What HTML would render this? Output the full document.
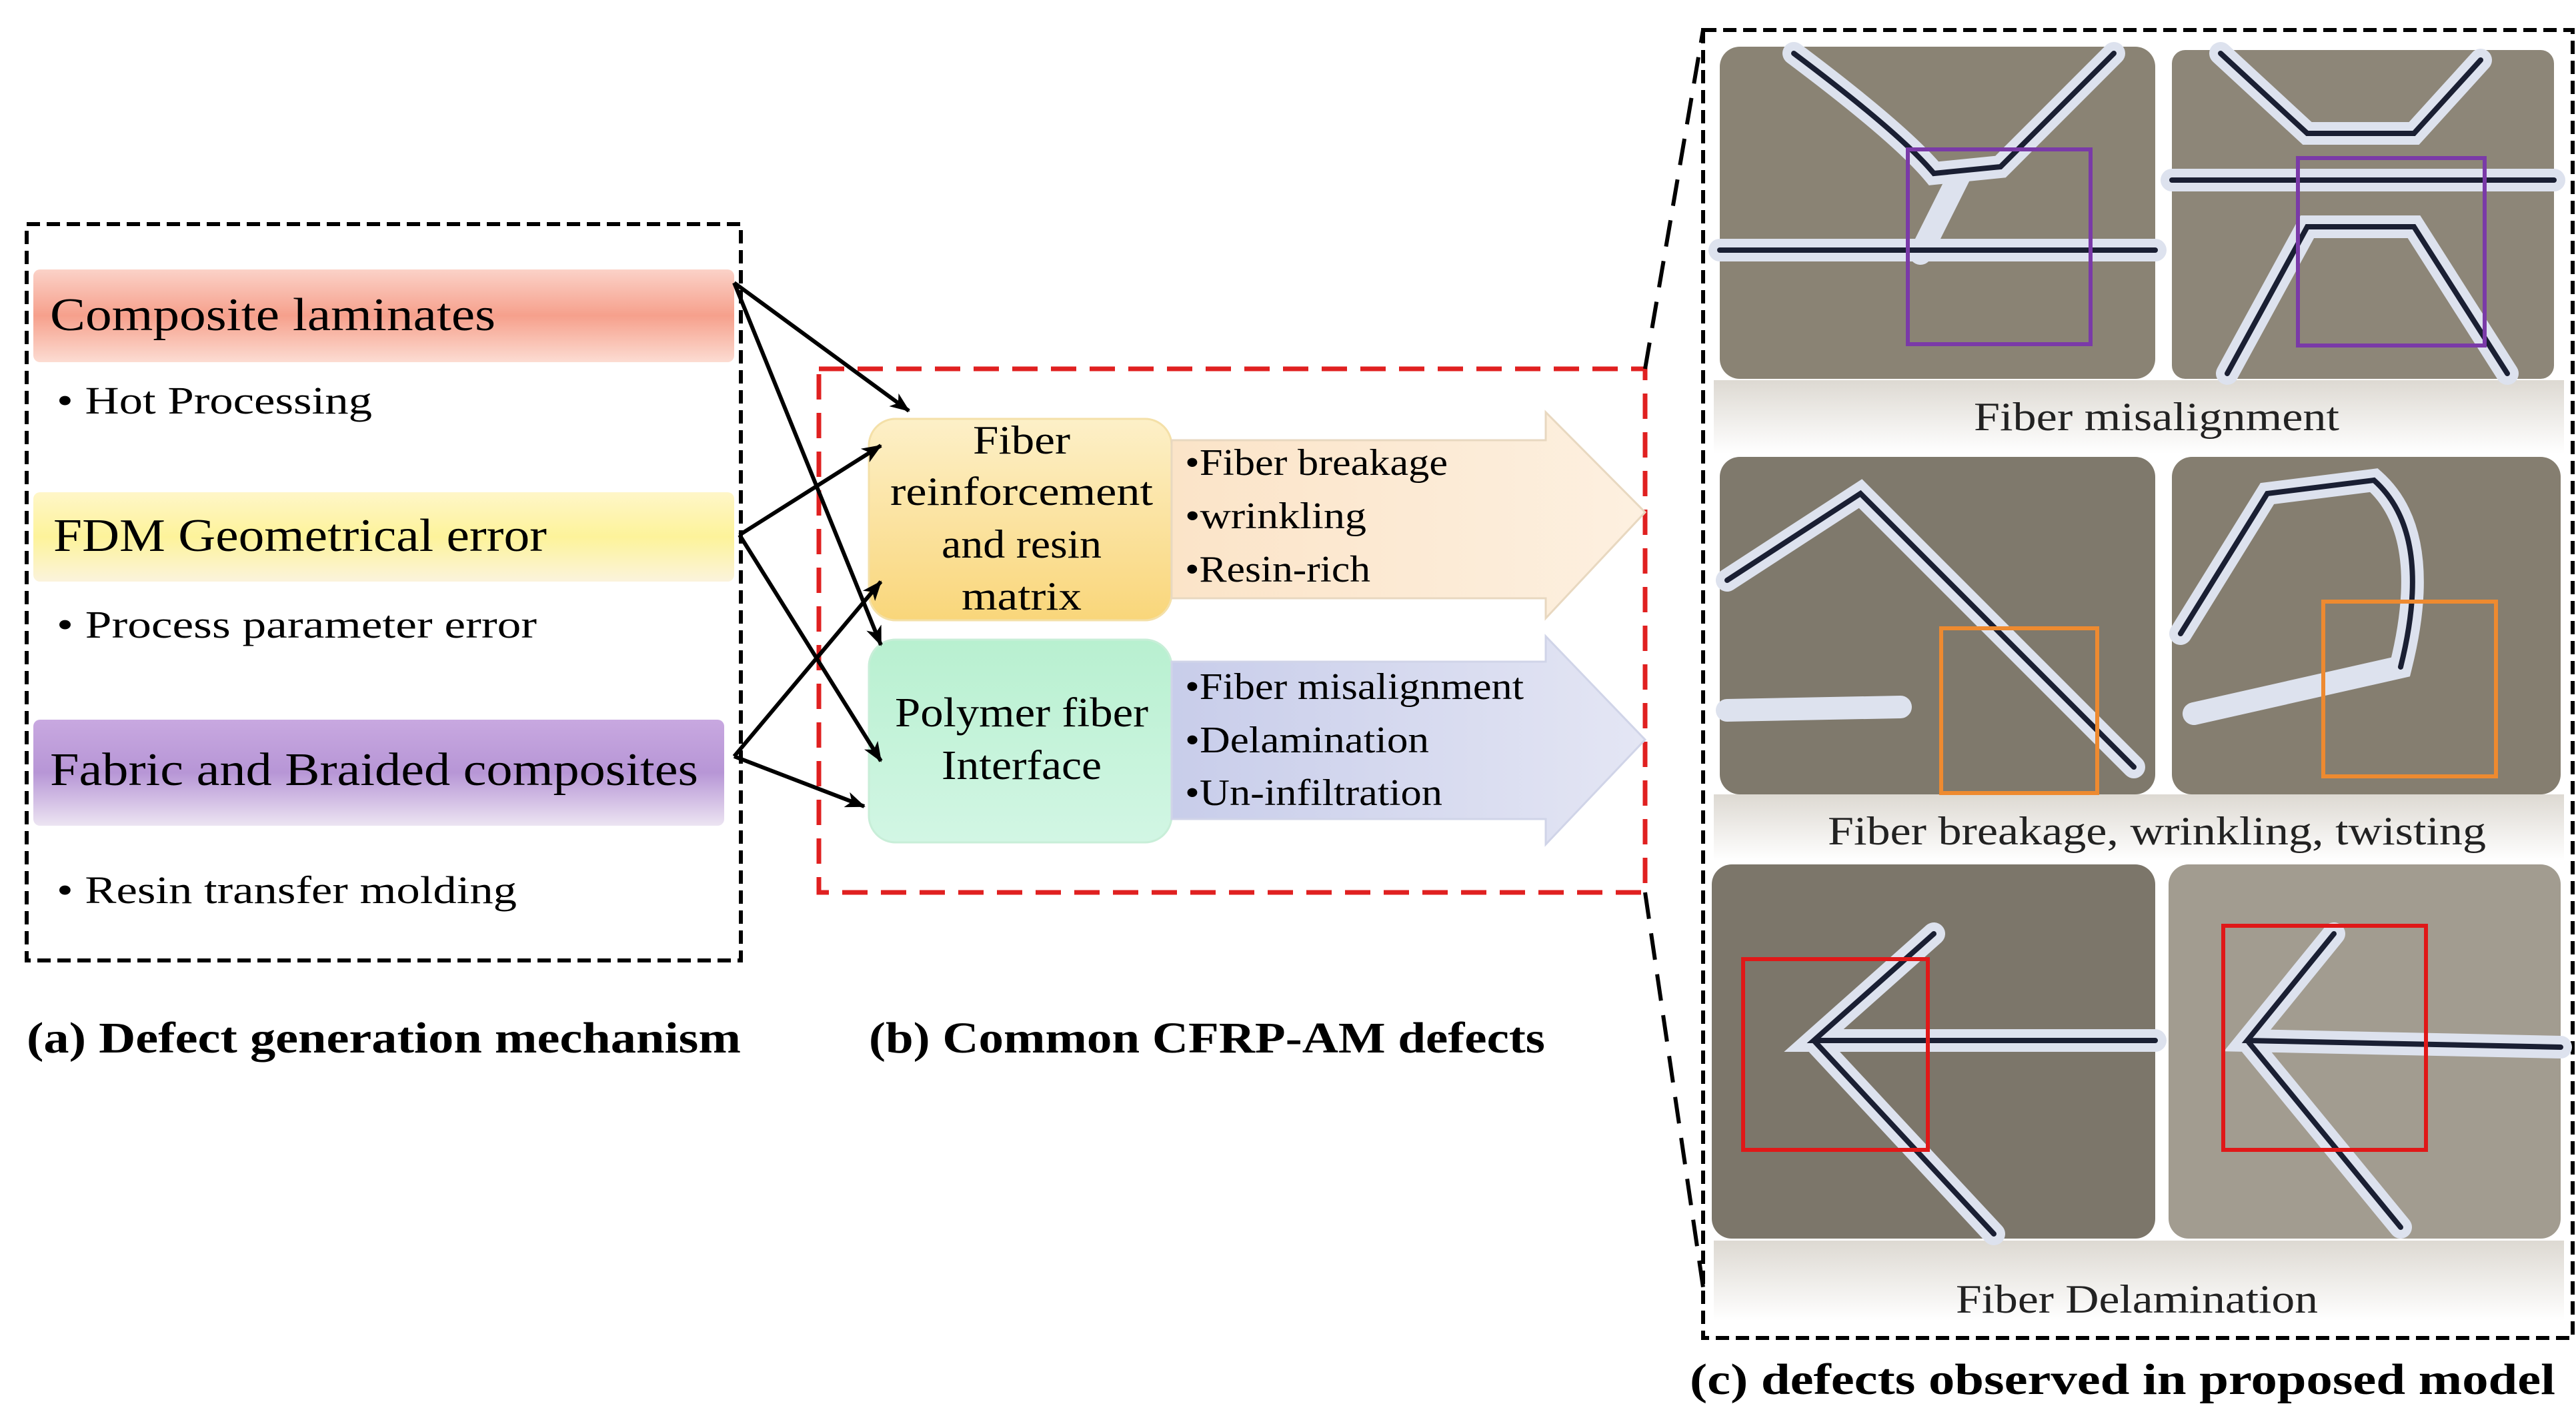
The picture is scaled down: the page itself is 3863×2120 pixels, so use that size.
<!DOCTYPE html>
<html><head><meta charset="utf-8"><style>
html,body{margin:0;padding:0;background:#fff;}
body{width:3863px;height:2120px;position:relative;overflow:hidden;font-family:"Liberation Serif",serif;}
svg{position:absolute;left:0;top:0;}
</style></head><body>
<svg width="3863" height="2120" viewBox="0 0 3863 2120" xmlns="http://www.w3.org/2000/svg" font-family="Liberation Serif, serif">
<defs>
<linearGradient id="gs" x1="0" y1="0" x2="0" y2="1"><stop offset="0" stop-color="#fbd2c8"/><stop offset="0.5" stop-color="#f6a08c"/><stop offset="1" stop-color="#fcdcd2"/></linearGradient>
<linearGradient id="gy" x1="0" y1="0" x2="0" y2="1"><stop offset="0" stop-color="#fff6c8"/><stop offset="0.5" stop-color="#fdf39a"/><stop offset="1" stop-color="#fbf3dc"/></linearGradient>
<linearGradient id="gp" x1="0" y1="0" x2="0" y2="1"><stop offset="0" stop-color="#c8a8e0"/><stop offset="0.5" stop-color="#b796d6"/><stop offset="1" stop-color="#ece4f2"/></linearGradient>
<linearGradient id="gf" x1="0" y1="0" x2="0" y2="1"><stop offset="0" stop-color="#fdf0c8"/><stop offset="1" stop-color="#f9d67a"/></linearGradient>
<linearGradient id="gg" x1="0" y1="0" x2="0" y2="1"><stop offset="0" stop-color="#b8f0d0"/><stop offset="1" stop-color="#d2f6e4"/></linearGradient>
<linearGradient id="ga1" x1="0" y1="0" x2="1" y2="0"><stop offset="0" stop-color="#fbe4c8"/><stop offset="1" stop-color="#fdf0e0"/></linearGradient>
<linearGradient id="ga2" x1="0" y1="0" x2="1" y2="0"><stop offset="0" stop-color="#c8cdea"/><stop offset="1" stop-color="#e4e6f4"/></linearGradient>
<linearGradient id="fade" x1="0" y1="0" x2="0" y2="1"><stop offset="0" stop-color="#ddd9d2"/><stop offset="1" stop-color="#ffffff"/></linearGradient>
<marker id="am" markerWidth="30" markerHeight="24" refX="28" refY="12" orient="auto" markerUnits="userSpaceOnUse"><path d="M0,0 L30,12 L0,24 L8,12 z" fill="#000"/></marker>
</defs>

<!-- left box -->
<rect x="40" y="336" width="1071" height="1104" fill="none" stroke="#000" stroke-width="6" stroke-dasharray="20,10"/>
<rect x="50" y="404" width="1051" height="139" rx="10" fill="url(#gs)"/>
<text x="75" y="495" font-size="70" textLength="668" lengthAdjust="spacingAndGlyphs">Composite laminates</text>
<text x="85" y="620" font-size="58" textLength="473" lengthAdjust="spacingAndGlyphs">• Hot Processing</text>
<rect x="50" y="738" width="1051" height="134" rx="10" fill="url(#gy)"/>
<text x="80" y="826" font-size="70" textLength="740" lengthAdjust="spacingAndGlyphs">FDM Geometrical error</text>
<text x="85" y="956" font-size="58" textLength="720" lengthAdjust="spacingAndGlyphs">• Process parameter error</text>
<rect x="50" y="1079" width="1036" height="159" rx="10" fill="url(#gp)"/>
<text x="75" y="1177" font-size="70" textLength="972" lengthAdjust="spacingAndGlyphs">Fabric and Braided composites</text>
<text x="85" y="1354" font-size="58" textLength="690" lengthAdjust="spacingAndGlyphs">• Resin transfer molding</text>

<!-- red box -->
<rect x="1228" y="553" width="1239" height="785" fill="none" stroke="#e02020" stroke-width="7" stroke-dasharray="38,20"/>
<rect x="1303" y="628" width="454" height="302" rx="40" fill="url(#gf)" stroke="#f4e0a8" stroke-width="3"/>
<g font-size="60" text-anchor="middle">
<text x="1532" y="680" textLength="146" lengthAdjust="spacingAndGlyphs">Fiber</text>
<text x="1532" y="757" textLength="394" lengthAdjust="spacingAndGlyphs">reinforcement</text>
<text x="1532" y="836" textLength="240" lengthAdjust="spacingAndGlyphs">and resin</text>
<text x="1532" y="914" textLength="180" lengthAdjust="spacingAndGlyphs">matrix</text>
</g>
<path d="M1757,660 L2318,660 L2318,618 L2467,768 L2318,927 L2318,897 L1757,897 z" fill="url(#ga1)" stroke="#e8d8c0" stroke-width="3"/>
<g font-size="56">
<text x="1777" y="712" textLength="394" lengthAdjust="spacingAndGlyphs">•Fiber breakage</text>
<text x="1777" y="792" textLength="272" lengthAdjust="spacingAndGlyphs">•wrinkling</text>
<text x="1777" y="872" textLength="278" lengthAdjust="spacingAndGlyphs">•Resin-rich</text>
</g>
<rect x="1303" y="959" width="454" height="304" rx="40" fill="url(#gg)" stroke="#c8eed8" stroke-width="3"/>
<g font-size="62" text-anchor="middle">
<text x="1532" y="1089" textLength="380" lengthAdjust="spacingAndGlyphs">Polymer fiber</text>
<text x="1532" y="1168" textLength="240" lengthAdjust="spacingAndGlyphs">Interface</text>
</g>
<path d="M1757,992 L2318,992 L2318,954 L2467,1109 L2318,1266 L2318,1228 L1757,1228 z" fill="url(#ga2)" stroke="#d0d4e8" stroke-width="3"/>
<g font-size="56">
<text x="1777" y="1048" textLength="508" lengthAdjust="spacingAndGlyphs">•Fiber misalignment</text>
<text x="1777" y="1128" textLength="366" lengthAdjust="spacingAndGlyphs">•Delamination</text>
<text x="1777" y="1207" textLength="386" lengthAdjust="spacingAndGlyphs">•Un-infiltration</text>
</g>

<!-- connectors -->
<g stroke="#000" stroke-width="6" fill="none" marker-end="url(#am)">
<line x1="1101" y1="424" x2="1363" y2="616"/>
<line x1="1101" y1="424" x2="1321" y2="967"/>
<line x1="1109" y1="802" x2="1321" y2="668"/>
<line x1="1109" y1="802" x2="1321" y2="1141"/>
<line x1="1101" y1="1134" x2="1321" y2="872"/>
<line x1="1101" y1="1134" x2="1296" y2="1209"/>
</g>

<!-- captions -->
<text x="40" y="1578" font-size="66" font-weight="bold" textLength="1071" lengthAdjust="spacingAndGlyphs">(a) Defect generation mechanism</text>
<text x="1303" y="1578" font-size="66" font-weight="bold" textLength="1014" lengthAdjust="spacingAndGlyphs">(b) Common CFRP-AM defects</text>

<!-- slant dashes -->
<line x1="2467" y1="553" x2="2554" y2="45" stroke="#000" stroke-width="6" stroke-dasharray="40,22"/>
<line x1="2467" y1="1338" x2="2554" y2="1930" stroke="#000" stroke-width="6" stroke-dasharray="40,22"/>

<!-- right box -->
<rect x="2554" y="45" width="1304" height="1961" fill="none" stroke="#000" stroke-width="6" stroke-dasharray="20,10"/>
<rect x="2570" y="570" width="1275" height="110" fill="url(#fade)"/>
<rect x="2570" y="1191" width="1275" height="100" fill="url(#fade)"/>
<rect x="2570" y="1860" width="1275" height="120" fill="url(#fade)"/>
<g>
<rect x="2579" y="70" width="653" height="498" rx="30" fill="#8a8374"/>
<rect x="3257" y="75" width="573" height="493" rx="20" fill="#8d8678"/>
<rect x="2579" y="685" width="653" height="506" rx="30" fill="#7f796c"/>
<rect x="3257" y="685" width="583" height="506" rx="30" fill="#857e70"/>
<rect x="2567" y="1296" width="665" height="561" rx="30" fill="#7c766a"/>
<rect x="3252" y="1296" width="588" height="561" rx="30" fill="#a29c90"/>
</g>
<!-- fiber strands -->
<g fill="none" stroke-linecap="round">
<g stroke="#dde2ee" stroke-width="34">
<path d="M2579,375 L3232,375"/><path d="M2690,80 Q2850,200 2900,260 L3000,250 L3170,80"/><path d="M2940,260 L2880,380"/>
<path d="M3257,270 L3830,270"/><path d="M3330,80 L3460,200 L3620,200 L3720,90"/><path d="M3340,560 L3460,340 L3620,340 L3760,560"/>
<path d="M2590,870 L2790,740 L3200,1150"/><path d="M2590,1065 L2850,1060"/><path d="M3270,950 L3400,740 L3560,720 Q3650,800 3600,1000 L3290,1070"/>
<path d="M3232,1560 L2720,1560 L2900,1400 M2720,1560 L2990,1850"/><path d="M3840,1570 L3370,1560 L3500,1400 M3370,1560 L3600,1840"/>
</g>
<g stroke="#1a1f33" stroke-width="8">
<path d="M2579,375 L3232,375"/><path d="M2690,80 Q2850,200 2900,260 L3000,250 L3170,80"/>
<path d="M3257,270 L3830,270"/><path d="M3330,80 L3460,200 L3620,200 L3720,90"/><path d="M3340,560 L3460,340 L3620,340 L3760,560"/>
<path d="M2590,870 L2790,740 L3200,1150"/><path d="M3270,950 L3400,740 L3560,720 Q3650,800 3600,1000"/>
<path d="M3232,1560 L2720,1560 L2900,1400 M2720,1560 L2990,1850"/><path d="M3840,1570 L3370,1560 L3500,1400 M3370,1560 L3600,1840"/>
</g>
</g>
<!-- highlight boxes -->
<g fill="none" stroke-width="6">
<rect x="2861" y="224" width="274" height="292" stroke="#7a3aa8"/>
<rect x="3446" y="237" width="280" height="281" stroke="#7a3aa8"/>
<rect x="2911" y="942" width="234" height="247" stroke="#ee8a30"/>
<rect x="3484" y="902" width="259" height="262" stroke="#ee8a30"/>
<rect x="2614" y="1438" width="277" height="286" stroke="#e01818"/>
<rect x="3334" y="1388" width="304" height="336" stroke="#e01818"/>
</g>
<g font-size="60" fill="#222">
<text x="2960" y="645" textLength="548" lengthAdjust="spacingAndGlyphs">Fiber misalignment</text>
<text x="2741" y="1266" textLength="987" lengthAdjust="spacingAndGlyphs">Fiber breakage, wrinkling, twisting</text>
<text x="2933" y="1968" textLength="543" lengthAdjust="spacingAndGlyphs">Fiber Delamination</text>
</g>
<text x="2534" y="2090" font-size="66" font-weight="bold" textLength="1298" lengthAdjust="spacingAndGlyphs">(c)  defects observed in proposed model</text>
</svg>
</body></html>
